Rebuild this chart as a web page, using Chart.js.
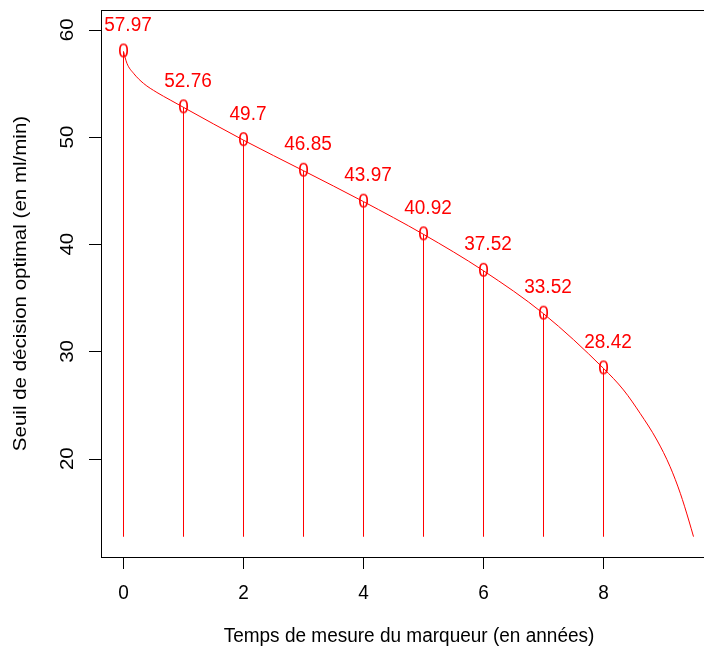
<!DOCTYPE html>
<html>
<head>
<meta charset="utf-8">
<script src="https://cdn.jsdelivr.net/npm/chart.js@4/dist/chart.umd.min.js"></script>
<style>
  html, body { margin: 0; padding: 0; background: #fff; }
  canvas { display: block; }
</style>
</head>
<body>
<canvas id="seuilChart" width="704" height="651"></canvas>
<script>
// measurement times (years) and optimal thresholds
const years = [0, 1, 2, 3, 4, 5, 6, 7, 8];
const thresholds = [57.97, 52.76, 49.7, 46.85, 43.97, 40.92, 37.52, 33.52, 28.42];
const thresholdLabels = ['57.97', '52.76', '49.7', '46.85', '43.97', '40.92', '37.52', '33.52', '28.42'];

// smooth curve
const curveX = [0, 0.057, 0.167, 0.333, 0.557, 0.778, 1, 2, 3, 4, 5, 6, 7, 8, 8.333, 8.61, 8.89, 9.11, 9.28, 9.42, 9.5];
const curveY = [57.97, 56.87, 55.94, 55.0, 54.15, 53.45, 52.76, 49.7, 46.85, 43.97, 40.92, 37.52, 33.52, 28.42, 26.41, 24.23, 21.74, 19.25, 16.77, 14.28, 12.73];

// lower end of the vertical segments
const stemBase = 12.73;

const xTicks = [0, 2, 4, 6, 8];
const yTicks = [20, 30, 40, 50, 60];

const RED = '#ff0000';
const FONT = '19px "Liberation Sans", Arial, Helvetica, sans-serif';
const STRETCH = 1.08; // text in the source is a bit taller than wide

function txt(ctx, str, x, y, vertical) {
  ctx.save();
  ctx.translate(x, y);
  if (vertical) {
    ctx.rotate(-Math.PI / 2);
    ctx.scale(STRETCH, 1);
  } else {
    ctx.scale(1, STRETCH);
  }
  ctx.fillText(str, 0, 0);
  ctx.restore();
}

// "0" character used as point symbol
const marker = document.createElement('canvas');
marker.width = 17;
marker.height = 26;
const mctx = marker.getContext('2d');
mctx.font = FONT;
mctx.fillStyle = RED;
mctx.textAlign = 'center';
mctx.textBaseline = 'middle';
txt(mctx, '0', 8.5, 13, false);

const rAxes = {
  id: 'rAxes',
  afterDraw(chart) {
    const { ctx, chartArea: a, scales: { x, y } } = chart;
    ctx.save();
    ctx.strokeStyle = '#000';
    ctx.lineWidth = 1;
    // box
    ctx.strokeRect(a.left + 0.5, a.top + 0.5, a.right - a.left + 20, a.bottom - a.top);
    // ticks
    ctx.beginPath();
    yTicks.forEach(v => {
      const py = Math.round(y.getPixelForValue(v)) + 0.5;
      ctx.moveTo(a.left - 12, py);
      ctx.lineTo(a.left, py);
    });
    xTicks.forEach(v => {
      const px = Math.floor(x.getPixelForValue(v)) + 0.5;
      ctx.moveTo(px, a.bottom);
      ctx.lineTo(px, a.bottom + 12);
    });
    ctx.stroke();

    ctx.fillStyle = '#000';
    ctx.font = FONT;
    ctx.textAlign = 'center';
    ctx.textBaseline = 'middle';
    xTicks.forEach(v => txt(ctx, String(v), x.getPixelForValue(v), a.bottom + 36, false));
    yTicks.forEach(v => txt(ctx, String(v), a.left - 33, y.getPixelForValue(v), true));

    // axis titles
    txt(ctx, 'Temps de mesure du marqueur (en années)', 409, 636, false);
    txt(ctx, 'Seuil de décision optimal (en ml/min)', 21, (a.top + a.bottom) / 2, true);

    // value labels
    ctx.fillStyle = RED;
    years.forEach((t, i) => {
      txt(ctx, thresholdLabels[i], x.getPixelForValue(t + 0.075), y.getPixelForValue(thresholds[i] + 2.45), false);
    });
    ctx.restore();
  }
};

new Chart(document.getElementById('seuilChart'), {
  type: 'scatter',
  data: {
    datasets: [
      {
        type: 'line',
        data: curveX.map((v, i) => ({ x: v, y: curveY[i] })),
        borderColor: RED,
        borderWidth: 1,
        pointRadius: 0,
        cubicInterpolationMode: 'monotone',
        fill: false
      },
      {
        // vertical segments as 1px floating bars
        type: 'bar',
        data: years.map((t, i) => ({ x: t, y: [stemBase, thresholds[i]] })),
        backgroundColor: RED,
        borderWidth: 0,
        inflateAmount: 0,
        barThickness: 1,
        grouped: false
      },
      {
        type: 'scatter',
        data: years.map((t, i) => ({ x: t, y: thresholds[i] })),
        pointStyle: marker,
        pointRadius: 8,
        borderColor: 'transparent',
        backgroundColor: 'transparent',
        showLine: false
      }
    ]
  },
  options: {
    responsive: false,
    animation: false,
    layout: { autoPadding: false, padding: { left: 101, top: 10, right: 0, bottom: 94 } },
    plugins: {
      legend: { display: false },
      tooltip: { enabled: false }
    },
    scales: {
      x: { type: 'linear', min: -0.375, max: 9.675, offset: false, display: false },
      y: { type: 'linear', min: 10.83, max: 61.84, display: false }
    }
  },
  plugins: [rAxes]
});
</script>
</body>
</html>
